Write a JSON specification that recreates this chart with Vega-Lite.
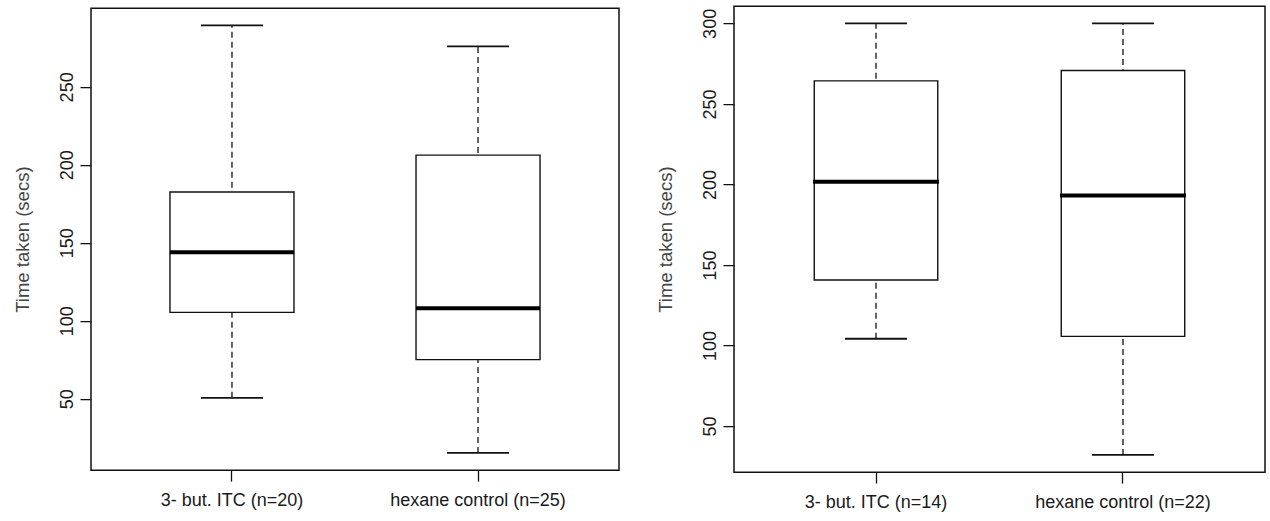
{
  "$schema": "https://vega.github.io/schema/vega-lite/v6.json",
  "padding": {"left": 12, "top": 5, "right": 0, "bottom": 0},
  "background": "white",
  "config": {
    "font": "Liberation Sans",
    "view": {"stroke": "#111", "strokeWidth": 1.5},
    "tick": {"opacity": 1},
    "axis": {
      "grid": false,
      "domain": false,
      "tickColor": "#111",
      "tickWidth": 1.3,
      "tickSize": 11,
      "labelFont": "Liberation Sans",
      "labelFontSize": 18,
      "labelColor": "#1a1a1a",
      "titleFont": "Liberation Sans",
      "titleFontSize": 18.5,
      "titleFontWeight": "normal",
      "titleColor": "#444"
    }
  },
  "datasets": {
    "left": [
      {"group": "3- but. ITC (n=20)", "lower": 50.6, "q1": 105.4, "median": 144, "q3": 182.6, "upper": 289.5},
      {"group": "hexane control (n=25)", "lower": 15.2, "q1": 75.1, "median": 108, "q3": 206.2, "upper": 276}
    ],
    "right": [
      {"group": "3- but. ITC (n=14)", "lower": 104.2, "q1": 140.7, "median": 201.7, "q3": 264.3, "upper": 300},
      {"group": "hexane control (n=22)", "lower": 32.1, "q1": 105.7, "median": 193.1, "q3": 270.7, "upper": 300}
    ]
  },
  "hconcat": [
    {
      "width": 528,
      "height": 462,
      "data": {"name": "left"},
      "encoding": {
        "x": {
          "field": "group", "type": "nominal", "sort": null, "title": null,
          "scale": {"type": "band", "paddingInner": 0.496, "paddingOuter": 0.321},
          "axis": {"labelAngle": 0, "labelPadding": 10}
        }
      },
      "layer": [
        {
          "mark": {"type": "rule", "strokeDash": [6, 4], "strokeWidth": 1.3, "color": "#111"},
          "encoding": {
            "y": {"field": "lower", "type": "quantitative",
              "scale": {"domain": [4.2, 300.5], "nice": false, "zero": false},
              "axis": {"values": [50, 100, 150, 200, 250], "labelAngle": -90, "labelAlign": "center", "labelBaseline": "alphabetic", "labelPadding": 8, "titlePadding": 26},
              "title": "Time taken (secs)"},
            "y2": {"field": "upper"}
          }
        },
        {
          "mark": {"type": "bar", "fill": "white", "stroke": "#111", "strokeWidth": 1.4},
          "encoding": {"y": {"field": "q1", "type": "quantitative"}, "y2": {"field": "q3"}}
        },
        {
          "mark": {"type": "tick", "color": "#111", "thickness": 1.8, "size": 62},
          "encoding": {"y": {"field": "lower", "type": "quantitative"}}
        },
        {
          "mark": {"type": "tick", "color": "#111", "thickness": 1.8, "size": 62},
          "encoding": {"y": {"field": "upper", "type": "quantitative"}}
        },
        {
          "mark": {"type": "tick", "color": "#000", "thickness": 4, "size": 124},
          "encoding": {"y": {"field": "median", "type": "quantitative"}}
        }
      ]
    },
    {
      "width": 531,
      "height": 466,
      "data": {"name": "right"},
      "encoding": {
        "x": {
          "field": "group", "type": "nominal", "sort": null, "title": null,
          "scale": {"type": "band", "paddingInner": 0.5, "paddingOuter": 0.325},
          "axis": {"labelAngle": 0, "labelPadding": 10}
        }
      },
      "layer": [
        {
          "mark": {"type": "rule", "strokeDash": [6, 4], "strokeWidth": 1.3, "color": "#111"},
          "encoding": {
            "y": {"field": "lower", "type": "quantitative",
              "scale": {"domain": [21.4, 310.7], "nice": false, "zero": false},
              "axis": {"values": [50, 100, 150, 200, 250, 300], "labelAngle": -90, "labelAlign": "center", "labelBaseline": "alphabetic", "labelPadding": 8, "titlePadding": 26},
              "title": "Time taken (secs)"},
            "y2": {"field": "upper"}
          }
        },
        {
          "mark": {"type": "bar", "fill": "white", "stroke": "#111", "strokeWidth": 1.4},
          "encoding": {"y": {"field": "q1", "type": "quantitative"}, "y2": {"field": "q3"}}
        },
        {
          "mark": {"type": "tick", "color": "#111", "thickness": 1.8, "size": 62},
          "encoding": {"y": {"field": "lower", "type": "quantitative"}}
        },
        {
          "mark": {"type": "tick", "color": "#111", "thickness": 1.8, "size": 62},
          "encoding": {"y": {"field": "upper", "type": "quantitative"}}
        },
        {
          "mark": {"type": "tick", "color": "#000", "thickness": 4, "size": 126},
          "encoding": {"y": {"field": "median", "type": "quantitative"}}
        }
      ]
    }
  ],
  "center": true,
  "spacing": 35
}
